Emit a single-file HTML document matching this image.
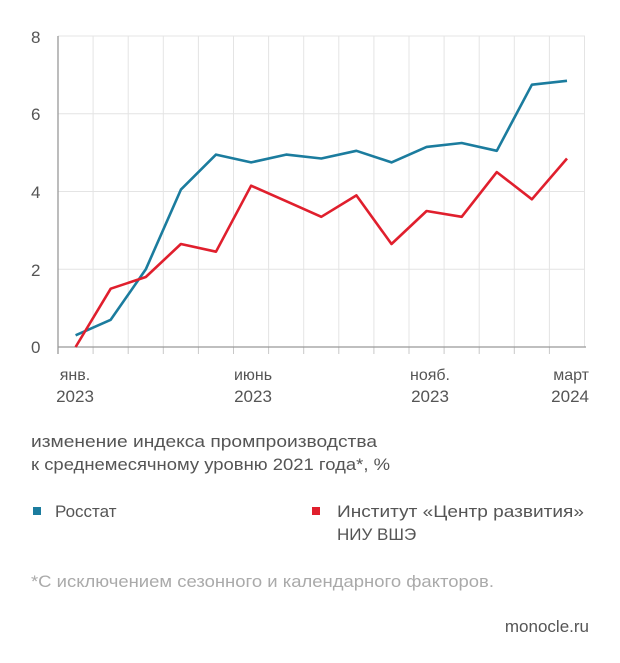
<!DOCTYPE html>
<html><head><meta charset="utf-8"><style>
html,body{margin:0;padding:0;background:#fff;}
svg{display:block;font-family:"Liberation Sans",sans-serif;}
</style></head><body>
<svg width="620" height="663" viewBox="0 0 620 663" xmlns="http://www.w3.org/2000/svg">
<g stroke="#e4e4e4" stroke-width="1">
<line x1="93.1" y1="36" x2="93.1" y2="347"/><line x1="128.2" y1="36" x2="128.2" y2="347"/><line x1="163.3" y1="36" x2="163.3" y2="347"/><line x1="198.4" y1="36" x2="198.4" y2="347"/><line x1="233.5" y1="36" x2="233.5" y2="347"/><line x1="268.6" y1="36" x2="268.6" y2="347"/><line x1="303.7" y1="36" x2="303.7" y2="347"/><line x1="338.8" y1="36" x2="338.8" y2="347"/><line x1="373.9" y1="36" x2="373.9" y2="347"/><line x1="409" y1="36" x2="409" y2="347"/><line x1="444.1" y1="36" x2="444.1" y2="347"/><line x1="479.2" y1="36" x2="479.2" y2="347"/><line x1="514.3" y1="36" x2="514.3" y2="347"/><line x1="549.4" y1="36" x2="549.4" y2="347"/><line x1="584.5" y1="36" x2="584.5" y2="347"/>
<line x1="58" y1="36" x2="585" y2="36"/><line x1="58" y1="113.75" x2="585" y2="113.75"/><line x1="58" y1="191.5" x2="585" y2="191.5"/><line x1="58" y1="269.25" x2="585" y2="269.25"/>
</g>
<g stroke="#c8c8c8" stroke-width="1">
<line x1="93.1" y1="347" x2="93.1" y2="354"/><line x1="128.2" y1="347" x2="128.2" y2="354"/><line x1="163.3" y1="347" x2="163.3" y2="354"/><line x1="198.4" y1="347" x2="198.4" y2="354"/><line x1="233.5" y1="347" x2="233.5" y2="354"/><line x1="268.6" y1="347" x2="268.6" y2="354"/><line x1="303.7" y1="347" x2="303.7" y2="354"/><line x1="338.8" y1="347" x2="338.8" y2="354"/><line x1="373.9" y1="347" x2="373.9" y2="354"/><line x1="409" y1="347" x2="409" y2="354"/><line x1="444.1" y1="347" x2="444.1" y2="354"/><line x1="479.2" y1="347" x2="479.2" y2="354"/><line x1="514.3" y1="347" x2="514.3" y2="354"/><line x1="549.4" y1="347" x2="549.4" y2="354"/>
</g>
<line x1="58" y1="36" x2="58" y2="354" stroke="#999" stroke-width="1.3"/>
<line x1="58" y1="347" x2="586" y2="347" stroke="#999" stroke-width="1.3"/>
<g fill="#555" font-size="17">
<text x="31" y="43">8</text><text x="31" y="120">6</text><text x="31" y="198">4</text><text x="31" y="276">2</text><text x="31" y="353">0</text>
<text x="75" y="380" text-anchor="middle" font-size="16">янв.</text><text x="75" y="402" text-anchor="middle">2023</text>
<text x="253" y="380" text-anchor="middle" font-size="16">июнь</text><text x="253" y="402" text-anchor="middle">2023</text>
<text x="430" y="380" text-anchor="middle" font-size="16">нояб.</text><text x="430" y="402" text-anchor="middle">2023</text>
<text x="589" y="380" text-anchor="end" font-size="16">март</text><text x="589" y="402" text-anchor="end">2024</text>
</g>
<polyline fill="none" stroke="#1b7c9e" stroke-width="2.6" stroke-linejoin="round" points="75.6,335.3 110.7,319.8 145.8,269.3 180.9,189.6 216,154.6 251.1,162.4 286.2,154.6 321.3,158.5 356.4,150.8 391.5,162.4 426.6,146.9 461.7,143 496.8,150.8 531.9,84.7 567,80.8"/>
<polyline fill="none" stroke="#e01f2d" stroke-width="2.6" stroke-linejoin="round" points="75.6,347 110.7,288.7 145.8,277 180.9,244 216,251.7 251.1,185.7 286.2,201.2 321.3,216.8 356.4,195.4 391.5,244 426.6,211 461.7,216.8 496.8,172.1 531.9,199.3 567,158.5"/>
<g fill="#555" font-size="17">
<text x="31" y="447" textLength="346" lengthAdjust="spacingAndGlyphs">изменение индекса промпроизводства</text>
<text x="31" y="470" textLength="359" lengthAdjust="spacingAndGlyphs">к среднемесячному уровню 2021 года*, %</text>
<rect x="33" y="507" width="8" height="8" fill="#1b7c9e"/>
<text x="55" y="517">Росстат</text>
<rect x="312" y="507" width="8" height="8" fill="#e01f2d"/>
<text x="337" y="517" textLength="247" lengthAdjust="spacingAndGlyphs">Институт «Центр развития»</text>
<text x="337" y="540">НИУ ВШЭ</text>
<text x="31" y="587" fill="#aaa" textLength="463" lengthAdjust="spacingAndGlyphs">*С исключением сезонного и календарного факторов.</text>
<text x="589" y="632" text-anchor="end">monocle.ru</text>
</g>
</svg>
</body></html>
